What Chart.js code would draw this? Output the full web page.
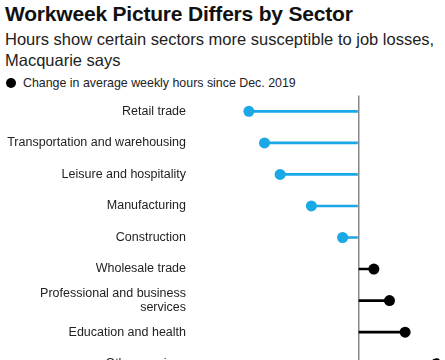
<!DOCTYPE html>
<html>
<head>
<meta charset="utf-8">
<script src="https://cdn.jsdelivr.net/npm/chart.js@4/dist/chart.umd.min.js"></script>
<style>
  html,body{margin:0;padding:0;background:#fff;overflow:hidden;width:445px;height:360px;}
  body{font-family:"Liberation Sans",Arial,sans-serif;color:#111;position:relative;}
  #title{position:absolute;left:5px;top:2px;font-weight:bold;font-size:21px;letter-spacing:-0.2px;white-space:nowrap;}
  #sub{position:absolute;left:5px;top:29px;font-size:16.5px;line-height:21px;color:#222;width:440px;}
  #legend{position:absolute;left:6px;top:76px;font-size:12.4px;color:#222;white-space:nowrap;}
  #legend .dot{display:inline-block;width:10px;height:10px;border-radius:50%;background:#000;vertical-align:-1px;margin-right:7px;}
  #wrap{position:absolute;left:0;top:73px;width:445px;height:329px;}
</style>
</head>
<body>
<div id="title">Workweek Picture Differs by Sector</div>
<div id="sub">Hours show certain sectors more susceptible to job losses, Macquarie says</div>
<div id="legend"><span class="dot"></span>Change in average weekly hours since Dec. 2019</div>
<div id="wrap"><canvas id="c"></canvas></div>
<script>
const categories = [
  "Retail trade",
  "Transportation and warehousing",
  "Leisure and hospitality",
  "Manufacturing",
  "Construction",
  "Wholesale trade",
  ["Professional and business", "services"],
  "Education and health",
  "Other services"
];
const hoursChange = [-0.7, -0.6, -0.5, -0.3, -0.1, 0.1, 0.2, 0.3, 0.5];

const colorFor = v => v < 0 ? "#1aa9e6" : "#000000";
const colors = hoursChange.map(colorFor);

new Chart(document.getElementById("c"), {
  data: {
    labels: categories,
    datasets: [
      {
        type: "bar",
        data: hoursChange,
        backgroundColor: colors,
        borderWidth: 0,
        barThickness: 2,
        order: 2
      },
      {
        type: "line",
        data: hoursChange,
        showLine: false,
        pointRadius: 5.5,
        pointHoverRadius: 5.5,
        pointBackgroundColor: colors,
        pointBorderColor: colors,
        pointBorderWidth: 0,
        order: 1
      }
    ]
  },
  options: {
    indexAxis: "y",
    responsive: true,
    maintainAspectRatio: false,
    animation: false,
    layout: { padding: { top: 6, right: 1.5, bottom: 13, left: 0 } },
    plugins: { legend: { display: false }, tooltip: { enabled: false }, title: { display: false } },
    scales: {
      x: {
        min: -1.0,
        max: 0.52,
        ticks: { display: false },
        border: { display: false },
        grid: {
          drawTicks: false,
          color: ctx => (ctx.tick && ctx.tick.value === 0) ? "#888888" : "rgba(0,0,0,0)",
          lineWidth: ctx => (ctx.tick && ctx.tick.value === 0) ? 1.5 : 0
        },
        afterBuildTicks: s => { s.ticks = [{ value: 0 }]; }
      },
      y: {
        border: { display: false },
        grid: { display: false, drawTicks: false },
        ticks: {
          padding: 16,
          color: "#222",
          font: { family: "'Liberation Sans', Arial, sans-serif", size: 12.5, lineHeight: 1.05 }
        },
        afterFit: s => { s.width = 202; }
      }
    }
  }
});
</script>
</body>
</html>
